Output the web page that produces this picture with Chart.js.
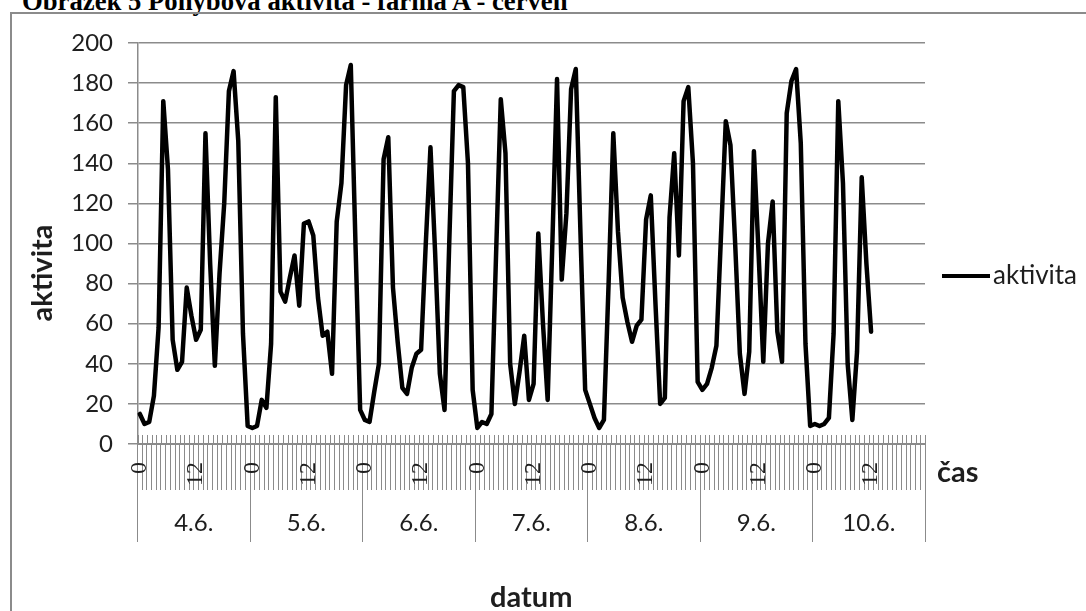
<!DOCTYPE html>
<html>
<head>
<meta charset="utf-8">
<script src="https://cdn.jsdelivr.net/npm/chart.js@4.4.0/dist/chart.umd.min.js"></script>
<style>
  html, body { margin: 0; padding: 0; background: #fff; }
  body { width: 1086px; height: 611px; position: relative; overflow: hidden; }
  #nadpis { position: absolute; left: 22px; top: -14px; line-height: 30px; font: bold 26.7px "Liberation Serif", "Times New Roman", serif; white-space: nowrap; color: #000; }
  #graf { position: absolute; left: 0; top: 0; }
  #ramecek { position: absolute; left: 10px; top: 12px; width: 1100px; height: 640px; border: 2px solid #8b8b8b; }
</style>
</head>
<body>
<div id="nadpis">Obrázek 5 Pohybová aktivita - farma A - červen</div>
<canvas id="graf" width="1086" height="611"></canvas>
<div id="ramecek"></div>
<script>
// dny měření a hodiny dne
const dny = ['4.6.', '5.6.', '6.6.', '7.6.', '8.6.', '9.6.', '10.6.'];
const hodiny = ['0', '1', '2', '3', '4', '5', '6', '7', '8', '9', '10', '11',
                '12', '13', '14', '15', '16', '17', '18', '19', '20', '21', '22', '23'];
const popsaneHodiny = ['0', '12'];
const osaY = [0, 20, 40, 60, 80, 100, 120, 140, 160, 180, 200];

// hodinová aktivita po dnech
const aktivita4 = [15, 10, 11, 24, 58, 171, 137, 52, 37, 41, 78, 64, 52, 57, 155, 90, 39, 85, 120, 176, 186, 151, 55, 9];
const aktivita5 = [8, 9, 22, 18, 50, 173, 76, 71, 83, 94, 69, 110, 111, 104, 73, 54, 56, 35, 111, 130, 179, 189, 100, 17];
const aktivita6 = [12, 11, 26, 40, 142, 153, 78, 51, 28, 25, 38, 45, 47, 100, 148, 95, 35, 17, 100, 176, 179, 178, 140, 27];
const aktivita7 = [8, 11, 10, 15, 95, 172, 145, 40, 20, 36, 54, 22, 30, 105, 60, 22, 100, 182, 82, 115, 177, 187, 105, 27];
const aktivita8 = [20, 13, 8, 12, 80, 155, 106, 73, 61, 51, 59, 62, 112, 124, 70, 20, 23, 113, 145, 94, 171, 178, 140, 31];
const aktivita9 = [27, 30, 38, 49, 105, 161, 149, 100, 45, 25, 46, 146, 95, 41, 100, 121, 56, 41, 165, 181, 187, 150, 50, 9];
const aktivita10 = [10, 9, 10, 13, 55, 171, 130, 40, 12, 46, 133, 90, 56];

const aktivita = [].concat(aktivita4, aktivita5, aktivita6, aktivita7, aktivita8, aktivita9, aktivita10);
const stitky = [];
dny.forEach(() => hodiny.forEach(h => stitky.push(h)));

const seda = '#8b8b8b';
const text = '#1e1e1e';

// popisky mimo osy: název osy Y, "čas", legenda a křížové značky nad osou X
const popisky = {
  id: 'popisky',
  beforeDatasetsDraw(chart) {
    const ctx = chart.ctx;
    const x = chart.scales.x;
    const dole = chart.chartArea.bottom;
    const krok = x.getPixelForValue(1) - x.getPixelForValue(0);
    ctx.save();
    ctx.strokeStyle = seda;
    ctx.lineWidth = 1;
    ctx.beginPath();
    for (let i = 0; i <= stitky.length; i++) {
      const px = Math.round(x.getPixelForValue(i) - krok / 2) + 0.5;
      ctx.moveTo(px, dole - 9);
      ctx.lineTo(px, dole);
    }
    ctx.stroke();
    ctx.restore();
  },
  afterDraw(chart) {
    const ctx = chart.ctx;
    const area = chart.chartArea;
    ctx.save();
    ctx.fillStyle = text;

    ctx.font = 'bold 29px Lato';
    ctx.save();
    ctx.translate(43, 273);
    ctx.rotate(-Math.PI / 2);
    ctx.textAlign = 'center';
    ctx.textBaseline = 'middle';
    ctx.fillText('aktivita', 0, 0);
    ctx.restore();

    ctx.textAlign = 'left';
    ctx.textBaseline = 'alphabetic';
    ctx.fillText('čas', area.right + 12, 482);

    // legenda
    const ds = chart.data.datasets[0];
    ctx.strokeStyle = ds.borderColor;
    ctx.lineWidth = 4;
    ctx.beginPath();
    ctx.moveTo(area.right + 17, 276);
    ctx.lineTo(area.right + 65, 276);
    ctx.stroke();
    ctx.font = '26px Lato';
    ctx.textBaseline = 'middle';
    ctx.fillText(ds.label, area.right + 68, 276);
    ctx.restore();
  }
};

new Chart(document.getElementById('graf'), {
  type: 'line',
  data: {
    labels: stitky,
    datasets: [{
      label: 'aktivita',
      data: aktivita,
      borderColor: '#000',
      borderWidth: 4.5,
      borderJoinStyle: 'round',
      borderCapStyle: 'round',
      pointRadius: 0,
      tension: 0,
      fill: false
    }]
  },
  options: {
    responsive: false,
    devicePixelRatio: 1,
    animation: false,
    layout: { padding: { top: 43, right: 161, bottom: 0, left: 0 } },
    plugins: {
      legend: { display: false },
      tooltip: { enabled: false },
      title: {
        display: true,
        text: 'datum',
        position: 'bottom',
        fullSize: false,
        color: text,
        font: { family: 'Lato', size: 29, weight: 'bold', lineHeight: 1.2 },
        padding: { top: 38, bottom: -3.8 }
      }
    },
    scales: {
      y: {
        min: 0,
        max: 200,
        afterFit(s) { s.width = 137.5; },
        afterBuildTicks(s) { s.ticks = osaY.map(v => ({ value: v })); },
        grid: { color: seda, lineWidth: 1.5, tickLength: 9.5 },
        border: { color: seda, width: 1.5 },
        ticks: { color: text, padding: 15, font: { family: 'Lato', size: 24 } }
      },
      x: {
        type: 'category',
        offset: true,
        afterFit(s) { s.height = 46; },
        grid: { offset: true, drawOnChartArea: false, tickLength: 46, color: seda, lineWidth: 1 },
        border: { color: seda, width: 1 },
        ticks: {
          autoSkip: false,
          minRotation: 90,
          maxRotation: 90,
          padding: -28,
          color: text,
          font: { family: 'Liberation Serif', size: 24 },
          callback(v) {
            const h = this.getLabelForValue(v);
            return popsaneHodiny.includes(h) ? h : '';
          }
        }
      },
      x2: {
        type: 'category',
        position: 'bottom',
        labels: dny,
        offset: true,
        afterFit(s) { s.height = 52; },
        grid: { offset: true, drawOnChartArea: false, tickLength: 52, color: seda, lineWidth: 1 },
        border: { display: false },
        ticks: { maxRotation: 0, padding: -33, color: text, font: { family: 'Lato', size: 24 } }
      }
    }
  },
  plugins: [popisky]
});
</script>
</body>
</html>
